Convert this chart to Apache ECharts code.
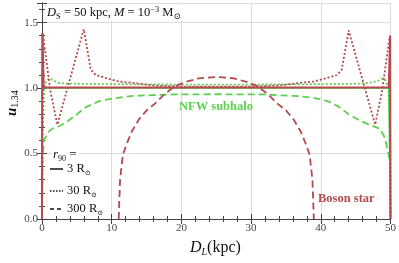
<!DOCTYPE html>
<html>
<head>
<meta charset="utf-8">
<script src="https://cdn.jsdelivr.net/npm/echarts@6/dist/echarts.min.js"></script>
<style>html,body{margin:0;padding:0;background:#fff}#c{width:399px;height:263px}</style>
</head>
<body>
<div id="c"></div>
<script>
// ---- data (D_L in kpc, u_1.34) ----
const xTicks = [0, 10, 20, 30, 40, 50];
const yTicks = ['0.0', '0.5', '1.0', '1.5'];

const bosonSolidD = [0, 0.05, 0.25, 49.75, 49.95, 50];
const bosonSolidU = [0, 1.42, 1.005, 1.005, 1.40, 0];

const nfwSolidD = [0, 0.05, 0.25, 49.75, 49.95, 50];
const nfwSolidU = [0, 1.0, 1.0, 1.0, 1.0, 0];

const bosonDottedD = [0, 0.1, 1.2, 2.2, 6.0, 7.0, 7.7, 9.6, 11, 13, 16, 20, 25, 30, 34, 37, 39, 40.4, 42.3, 43.0, 44.0, 47.8, 48.8, 49.9, 50];
const bosonDottedU = [0, 1.42, 0.98, 0.72, 1.45, 1.14, 1.10, 1.07, 1.05, 1.04, 1.02, 1.012, 1.01, 1.012, 1.02, 1.04, 1.05, 1.07, 1.10, 1.14, 1.44, 0.72, 0.98, 1.40, 0];

const bosonDashedD = [11.0, 11.2, 11.6, 12.2, 12.9, 13.9, 15, 16.3, 17.5, 19.1, 20.5, 22.5, 25, 27.5, 29.5, 30.9, 32.5, 33.7, 35, 36.1, 37.1, 37.8, 38.4, 38.8, 39.0];
const bosonDashedU = [0, 0.3, 0.49, 0.58, 0.67, 0.76, 0.83, 0.885, 0.95, 1.015, 1.045, 1.075, 1.085, 1.075, 1.045, 1.015, 0.95, 0.885, 0.83, 0.76, 0.67, 0.58, 0.49, 0.3, 0];

const nfwDottedD = [0, 0.05, 0.3, 0.7, 1.1, 1.6, 2.3, 3.5, 6, 10, 15, 20, 25, 30, 35, 40, 44, 45.8, 47.5, 48.4, 48.9, 49.3, 49.7, 49.95, 50];
const nfwDottedU = [0, 0.6, 1.0, 1.06, 1.075, 1.06, 1.04, 1.035, 1.032, 1.03, 1.028, 1.027, 1.027, 1.027, 1.028, 1.03, 1.032, 1.035, 1.045, 1.06, 1.075, 1.06, 1.0, 0.6, 0];

const nfwDashedD = [0, 0.08, 0.3, 0.8, 1.5, 2.5, 3.5, 4.9, 6.3, 8.2, 10, 13, 18, 25, 32, 36.8, 39, 41, 42.5, 44, 45.5, 46.5, 47.5, 48.5, 49.2, 49.6, 49.9, 50];
const nfwDashedU = [0, 0.48, 0.6, 0.66, 0.69, 0.71, 0.74, 0.795, 0.855, 0.90, 0.92, 0.94, 0.951, 0.953, 0.951, 0.938, 0.925, 0.90, 0.86, 0.80, 0.755, 0.73, 0.71, 0.69, 0.62, 0.52, 0.45, 0];

const seriesNames = ['3 R⊙', '30 R⊙', '300 R⊙'];

// ---- chart ----
const RED = '#b5494d';
const GREEN = '#5fcf52';
const SERIF = '"Liberation Serif", "DejaVu Serif", serif';
const zip = (a, b) => a.map((v, i) => [v, b[i]]);

const chart = echarts.init(document.getElementById('c'), null, {renderer: 'canvas'});

function line(name, d, u, color, type, width, z) {
  return {
    name, type: 'line', data: zip(d, u), showSymbol: false, symbol: 'none',
    xAxisIndex: 0, yAxisIndex: 0, z,
    lineStyle: {color, type, width, cap: 'butt'},
    animation: false, clip: true
  };
}

const axisCommon = {
  axisLine: {show: true, lineStyle: {color: '#444', width: 1}},
  axisTick: {show: true, inside: true, length: 5, lineStyle: {color: '#444'}},
  minorTick: {show: true, splitNumber: 5, length: 3, lineStyle: {color: '#444'}}
};

chart.setOption({
  animation: false,
  backgroundColor: '#fff',
  grid: {left: 42, right: 7, top: 3, bottom: 44, containLabel: false},
  xAxis: [
    Object.assign({
      type: 'value', min: 0, max: 50, interval: 10, position: 'bottom',
      axisLabel: {color: '#444', fontFamily: SERIF, fontSize: 11, margin: 4,
        formatter: v => xTicks.includes(v) ? String(v) : ''},
      splitLine: {show: true, lineStyle: {color: '#dcdcdc', width: 1}}
    }, axisCommon),
    Object.assign({
      type: 'value', min: 0, max: 50, interval: 10, position: 'top',
      axisLabel: {show: false}, splitLine: {show: false}
    }, axisCommon)
  ],
  yAxis: [
    Object.assign({
      type: 'value', min: 0, max: 1.65, interval: 0.5, position: 'left',
      axisLabel: {color: '#444', fontFamily: SERIF, fontSize: 11, margin: 4,
        showMaxLabel: false,
        formatter: v => { const s = v.toFixed(1); return yTicks.includes(s) && Math.abs(v*2 - Math.round(v*2)) < 1e-6 ? s : ''; }},
      splitLine: {show: true, lineStyle: {color: '#dcdcdc', width: 1}}
    }, axisCommon),
    Object.assign({
      type: 'value', min: 0, max: 1.65, interval: 0.5, position: 'right',
      axisLabel: {show: false}, splitLine: {show: false}
    }, axisCommon)
  ],
  series: [
    line('nfw300', nfwDashedD, nfwDashedU, GREEN, [7, 4], 1.8, 2),
    line('nfw30', nfwDottedD, nfwDottedU, GREEN, [2, 2], 1.8, 3),
    line('nfw3', nfwSolidD, nfwSolidU, GREEN, 'solid', 1.5, 4),
    line('boson300', bosonDashedD, bosonDashedU, RED, [7, 4], 1.8, 5),
    line('boson30', bosonDottedD, bosonDottedU, RED, [2, 2], 1.8, 6),
    line('boson3', bosonSolidD, bosonSolidU, RED, 'solid', 2, 7)
  ],
  graphic: [
    // top-left annotation
    {type: 'text', left: 45, top: 5, z: 50, style: {
      text: '{i|D}{sub|S}{n| = 50 kpc, }{i|M}{n| = 10}{sup|−3}{n| M}{sub|⊙}',
      backgroundColor: '#fff', padding: [0, 2, 0, 2],
      rich: {
        i: {fontFamily: SERIF, fontStyle: 'italic', fontSize: 12.5, fill: '#111', lineHeight: 16, verticalAlign: 'middle'},
        n: {fontFamily: SERIF, fontSize: 12.5, fill: '#111', lineHeight: 16, verticalAlign: 'middle'},
        sub: {fontFamily: SERIF, fontSize: 8.5, fill: '#111', lineHeight: 10, verticalAlign: 'bottom'},
        sup: {fontFamily: SERIF, fontSize: 8.5, fill: '#111', lineHeight: 10, verticalAlign: 'top'}
      }}},
    // series labels
    {type: 'text', left: 179, top: 100, z: 50, style: {text: 'NFW subhalo',
      font: 'bold 12.5px ' + SERIF, fill: GREEN}},
    {type: 'text', left: 318, top: 192, z: 50, style: {text: 'Boson star',
      font: 'bold 12.5px ' + SERIF, fill: RED}},
    // legend
    {type: 'text', left: 52, top: 147, z: 50, style: {
      text: '{i|r}{sub|90}{n| =}', backgroundColor: '#fff', padding: [0, 2, 0, 1],
      rich: {
        i: {fontFamily: SERIF, fontStyle: 'italic', fontSize: 13, fill: '#111', lineHeight: 16, verticalAlign: 'middle'},
        n: {fontFamily: SERIF, fontSize: 13, fill: '#111', lineHeight: 16, verticalAlign: 'middle'},
        sub: {fontFamily: SERIF, fontSize: 8, fill: '#111', lineHeight: 10, verticalAlign: 'bottom'}
      }}},
    {type: 'line', z: 50, shape: {x1: 50, y1: 169, x2: 63, y2: 169}, style: {stroke: '#111', lineWidth: 1.5}},
    {type: 'line', z: 50, shape: {x1: 50, y1: 191, x2: 63, y2: 191}, style: {stroke: '#111', lineWidth: 1.5, lineDash: [1.5, 1.5]}},
    {type: 'line', z: 50, shape: {x1: 50, y1: 209, x2: 63, y2: 209}, style: {stroke: '#111', lineWidth: 1.5, lineDash: [4, 3]}},
    ...seriesNames.map((s, k) => ({type: 'text', left: 67, top: [162, 184, 202][k], z: 50, style: {
      text: '{n|' + s.replace(' R⊙', ' R') + '}{sub|⊙}',
      rich: {
        n: {fontFamily: SERIF, fontSize: 12.5, fill: '#111', lineHeight: 16, verticalAlign: 'middle'},
        sub: {fontFamily: SERIF, fontSize: 7, fill: '#111', lineHeight: 10, verticalAlign: 'bottom'}
      }}})),
    // axis names
    {type: 'text', left: 190, top: 240, z: 50, style: {
      text: '{i|D}{sub|L}{n|(kpc)}',
      rich: {
        i: {fontFamily: SERIF, fontStyle: 'italic', fontSize: 16, fill: '#111', lineHeight: 18, verticalAlign: 'middle'},
        n: {fontFamily: SERIF, fontSize: 16, fill: '#111', lineHeight: 18, verticalAlign: 'middle'},
        sub: {fontFamily: SERIF, fontStyle: 'italic', fontSize: 10, fill: '#111', lineHeight: 12, verticalAlign: 'bottom'}
      }}},
    {type: 'text', x: 4, y: 116, rotation: Math.PI / 2, z: 50, style: {
      text: '{i|u}{sub|1.34}',
      rich: {
        i: {fontFamily: SERIF, fontStyle: 'italic', fontWeight: 'bold', fontSize: 15, fill: '#111', lineHeight: 16, verticalAlign: 'middle'},
        sub: {fontFamily: SERIF, fontSize: 10, fill: '#111', lineHeight: 11, verticalAlign: 'bottom'}
      }}}
  ]
});
</script>
</body>
</html>
